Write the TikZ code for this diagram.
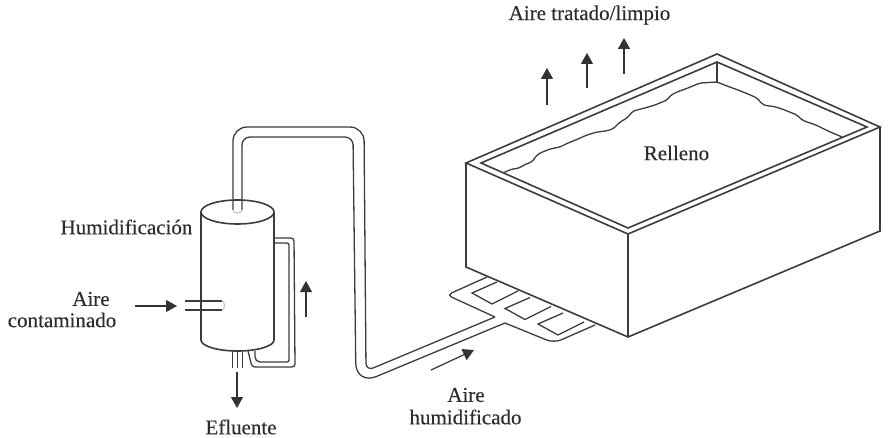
\documentclass[tikz,border=0pt]{standalone}
\usepackage{fontspec}
\setmainfont[FakeBold=0.3]{Liberation Serif}
\usetikzlibrary{arrows.meta,positioning,calc}
\definecolor{pipegray}{RGB}{60,60,60}
\definecolor{textgray}{RGB}{45,45,45}

\begin{document}
\begin{tikzpicture}[
    x=1pt,y=-1pt,
    wall/.style={draw=pipegray,line width=1.6pt},
    pipe/.style={draw=pipegray,line width=1.3pt},
    flow/.style={draw=black!80,line width=1.2pt,-{Triangle[width=12pt,length=11pt]}},
    label/.style={draw=none,text=textgray,font=\fontsize{21}{22}\selectfont,inner sep=0pt},
]
\useasboundingbox (0,0) rectangle (888,438);

% Labels
\node[label] (tratado) at (589.5,15) {Aire tratado/limpio};
\node[label] (relleno) at (676.5,153) {Relleno};
\node[label] (humid) at (126.5,227) {Humidificación};
\node[label] (aire1) at (91,299) {Aire};
\node[label] (contam) at (62,320) {contaminado};
\node[label] (efluente) at (241,427) {Efluente};
\node[label] (aire2) at (466,395) {Aire};
\node[label] (humaire) at (465.5,417) {humidificado};

% Tank outer
\coordinate (tl) at (466,163);
\coordinate (tb) at (717,54);
\coordinate (tr) at (880,127);
\coordinate (tf) at (628,234);
\coordinate (bl) at (466,267);
\coordinate (bf) at (628,337);
\coordinate (br) at (880,231);
\draw[wall] (tl) -- (tb) -- (tr) -- (tf) -- cycle;
\draw[wall] (tl) -- (bl) -- (bf) -- (br) -- (tr);
\draw[wall] (tf) -- (bf);

% Tank rim, inside
\coordinate (il) at (481,163);
\coordinate (ib) at (717,62);
\coordinate (ir) at (867,127);
\coordinate (if) at (628,228);
\draw[wall] (il) -- (ib) -- (ir) -- (if) -- cycle;
\draw[wall] (ib) -- (717,82);

% Packing surface
\draw[pipe,rounded corners=2pt]
    (503,173) -- (512,169) -- (518,168.5) -- (526,164) -- (532,162) -- (536,156) -- (540,153)
    -- (550,149) -- (560,147) -- (568,143) -- (578,139) -- (587,135) -- (597,132) -- (606,131) -- (613,129)
    -- (620,122) -- (627,118) -- (633,111) -- (645,108) -- (655,105) -- (667,100) -- (671,95) -- (677,92)
    -- (688,88) -- (700,83) -- (717,82)
    -- (727,86) -- (738,90) -- (748,94) -- (757,98) -- (762,104) -- (767,106) -- (772,106) -- (782,109)
    -- (797,115) -- (802,120) -- (807,122) -- (816,125) -- (828,131) -- (842,137);

% Humidifier
\draw[wall] (237.5,212) ellipse [x radius=36.5,y radius=12];
\draw[wall] (201,212) -- (201,340) arc [start angle=180,end angle=360,x radius=36.5,y radius=-11] -- (274,212);

% Duct from humidifier to tank
\draw[pipe,rounded corners=14pt] (233,210) -- (233,127) -- (364,127) [rounded corners=8pt] -- (366,371) -- (495,317);
\draw[pipe,rounded corners=8pt] (242,210) -- (242,137) -- (353,137) [rounded corners=22pt] -- (356,385) -- (505,323);
\draw[draw=gray!50,line width=1pt] (233,210) arc [start angle=180,end angle=360,x radius=4.5,y radius=-3];

% Side return
\draw[pipe,rounded corners=3pt] (274,238) -- (294,238) -- (295,367) -- (252,367) -- (248,351);
\draw[pipe,rounded corners=2pt] (274,243) -- (289,243) -- (289,362) -- (258,362) -- (255,359) -- (255,351);

% Inlet stub
\draw[pipe] (185,301) -- (222,301);
\draw[pipe] (185,310) -- (222,310);
\draw[draw=gray!50,line width=1pt] (222,301) arc [start angle=90,end angle=-90,x radius=2.5,y radius=-4.5];

% Drain
\foreach \x in {232,237,242}
    \draw[pipe,line width=1pt] (\x,351) -- (\x,368);

% Distribution below the tank
\draw[pipe,rounded corners=5pt] (487,277) -- (447,295) -- (495,317);
\draw[pipe,rounded corners=8pt] (505,323) -- (554,343) -- (595,325);
\foreach \i in {0,1,2}
    \draw[pipe,shift={(\i*33,\i*15.5)}] (497,282) -- (472,293) -- (492,304) -- (518,291);

% Flow arrows
\coordinate (up1a) at (547,105); \coordinate (up1b) at (547,68);
\coordinate (up2a) at (587,88);  \coordinate (up2b) at (587,53);
\coordinate (up3a) at (624,74);  \coordinate (up3b) at (624,38);
\coordinate (ina) at (135,306);  \coordinate (inb) at (177,306);
\coordinate (reta) at (306,317); \coordinate (retb) at (306,281);
\coordinate (outa) at (237,372); \coordinate (outb) at (237,408);
\coordinate (ducta) at (431,370); \coordinate (ductb) at (474,350);
\foreach \a/\b in {up1a/up1b,up2a/up2b,up3a/up3b,ina/inb,reta/retb,outa/outb,ducta/ductb}
    \draw[flow] (\a) -- (\b);

\end{tikzpicture}
\end{document}
